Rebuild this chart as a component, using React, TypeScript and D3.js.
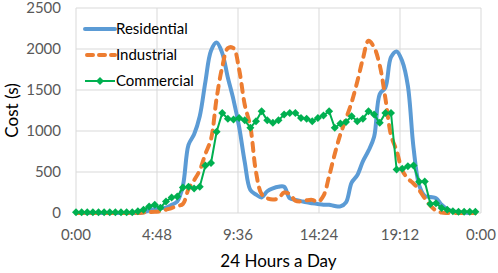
import React from "react";
import * as d3 from "d3";

// readings every 20 minutes, 72 per day
const residential = [
  0, 0, 0, 0, 0, 0, 0, 0, 0, 0, 0, 0,
  10, 30, 50, 60, 65, 100, 140, 330, 830, 960, 1180, 1600,
  1980, 2080, 1950, 1650, 1380, 1050, 620, 280, 225, 190, 265, 300,
  320, 320, 180, 160, 145, 130, 120, 110, 100, 100, 85, 80,
  130, 370, 460, 630, 760, 930, 1450, 1530, 1900, 1970, 1850, 1550,
  800, 340, 210, 195, 180, 100, 45, 20, 10, 5, 0, 0,
];
const industrial = [
  0, 0, 0, 0, 0, 0, 0, 0, 0, 0, 0, 0,
  5, 10, 15, 20, 40, 60, 85, 110, 290, 400, 520, 720,
  900, 1400, 1780, 2010, 2010, 1750, 1320, 1050, 500, 230, 180, 165,
  180, 250, 230, 150, 140, 155, 160, 135, 210, 450, 720, 960,
  1150, 1350, 1600, 1880, 2100, 2020, 1800, 1400, 950, 760, 520, 420,
  360, 280, 180, 90, 30, 5, 0, 0, 0, 0, 0, 0,
];
const commercial = [
  10, 10, 10, 10, 10, 10, 10, 10, 10, 10, 10, 20,
  40, 80, 100, 65, 140, 190, 200, 310, 320, 300, 320, 580,
  610, 990, 1220, 1150, 1140, 1160, 1130, 1040, 1120, 1240, 1130, 1100,
  1130, 1200, 1220, 1220, 1160, 1150, 1120, 1160, 1190, 1240, 1040, 1090,
  1110, 1180, 1120, 1150, 1240, 1200, 1100, 1220, 1220, 530, 540, 570,
  580, 380, 385, 110, 120, 60, 40, 20, 15, 15, 15, 15,
];
const xTicks = [0, 4.8, 9.6, 14.4, 19.2, 24];
const xTickLabels = ["0:00", "4:48", "9:36", "14:24", "19:12", "0:00"];
const yTicks = [0, 500, 1000, 1500, 2000, 2500];
const seriesNames = ["Residential", "Industrial", "Commercial"];

const W = 498;
const H = 273;
const FONT = "Lato, 'Liberation Sans', sans-serif";
const BLUE = "#5b9bd5";
const ORANGE = "#ed7d31";
const GREEN = "#00b050";

const diamond = (x: number, y: number, r: number) =>
  `M${x},${y - r}L${x + r},${y}L${x},${y + r}L${x - r},${y}Z`;

export default function App() {
  const x = d3.scaleLinear().domain([0, 24]).range([76, 481]);
  const y = d3.scaleLinear().domain([0, 2500]).range([213, 8]);
  const hour = (i: number) => i / 3;

  const smooth = d3
    .line<number>()
    .x((d, i) => x(hour(i)))
    .y((d) => y(d))
    .curve(d3.curveCatmullRom.alpha(0.5));
  const straight = d3
    .line<number>()
    .x((d, i) => x(hour(i)))
    .y((d) => y(d));

  const legendY = [29, 55, 81];

  return (
    <svg
      width={W}
      height={H}
      style={{ position: "absolute", left: 0, top: 0, background: "#fff" }}
      fontFamily={FONT}
    >
      {/* grid */}
      {yTicks.map((t) => (
        <line key={"gy" + t} x1={x(0)} x2={x(24)} y1={y(t)} y2={y(t)} stroke="#d9d9d9" strokeWidth={1} />
      ))}
      {xTicks.map((t) => (
        <line key={"gx" + t} x1={x(t)} x2={x(t)} y1={y(0)} y2={y(2500)} stroke="#d9d9d9" strokeWidth={1} />
      ))}

      {/* axis labels */}
      {yTicks.map((t) => (
        <text key={"ly" + t} x={61} y={y(t)} dy="0.36em" textAnchor="end" fontSize={15} fill="#595959">
          {t}
        </text>
      ))}
      {xTicks.map((t, i) => (
        <text key={"lx" + i} x={x(t)} y={240} textAnchor="middle" fontSize={15} fill="#595959">
          {xTickLabels[i]}
        </text>
      ))}
      <text x={(x(0) + x(24)) / 2} y={267} textAnchor="middle" fontSize={17} fill="#000">
        24 Hours a Day
      </text>
      <text transform={`translate(18,${(y(0) + y(2500)) / 2}) rotate(-90)`} textAnchor="middle" fontSize={17} fill="#000">
        Cost (s)
      </text>

      {/* series */}
      <path d={smooth(residential) || ""} fill="none" stroke={BLUE} strokeWidth={4} strokeLinejoin="round" />
      <path
        d={smooth(industrial) || ""}
        fill="none"
        stroke={ORANGE}
        strokeWidth={4}
        strokeDasharray="8,7"
        strokeLinecap="round"
      />
      <path d={straight(commercial) || ""} fill="none" stroke={GREEN} strokeWidth={2} />
      {commercial.map((d, i) => (
        <path key={"m" + i} d={diamond(x(hour(i)), y(d), 4)} fill={GREEN} />
      ))}

      {/* legend */}
      <line x1={85} x2={115} y1={legendY[0]} y2={legendY[0]} stroke={BLUE} strokeWidth={4} strokeLinecap="round" />
      <line
        x1={87}
        x2={115}
        y1={legendY[1]}
        y2={legendY[1]}
        stroke={ORANGE}
        strokeWidth={4}
        strokeDasharray="6,6"
        strokeLinecap="round"
      />
      <line x1={85} x2={115} y1={legendY[2]} y2={legendY[2]} stroke={GREEN} strokeWidth={2} />
      <path d={diamond(100, legendY[2], 4)} fill={GREEN} />
      {seriesNames.map((n, i) => (
        <text key={n} x={116} y={legendY[i]} dy="0.36em" fontSize={15} fill="#000">
          {n}
        </text>
      ))}
    </svg>
  );
}
